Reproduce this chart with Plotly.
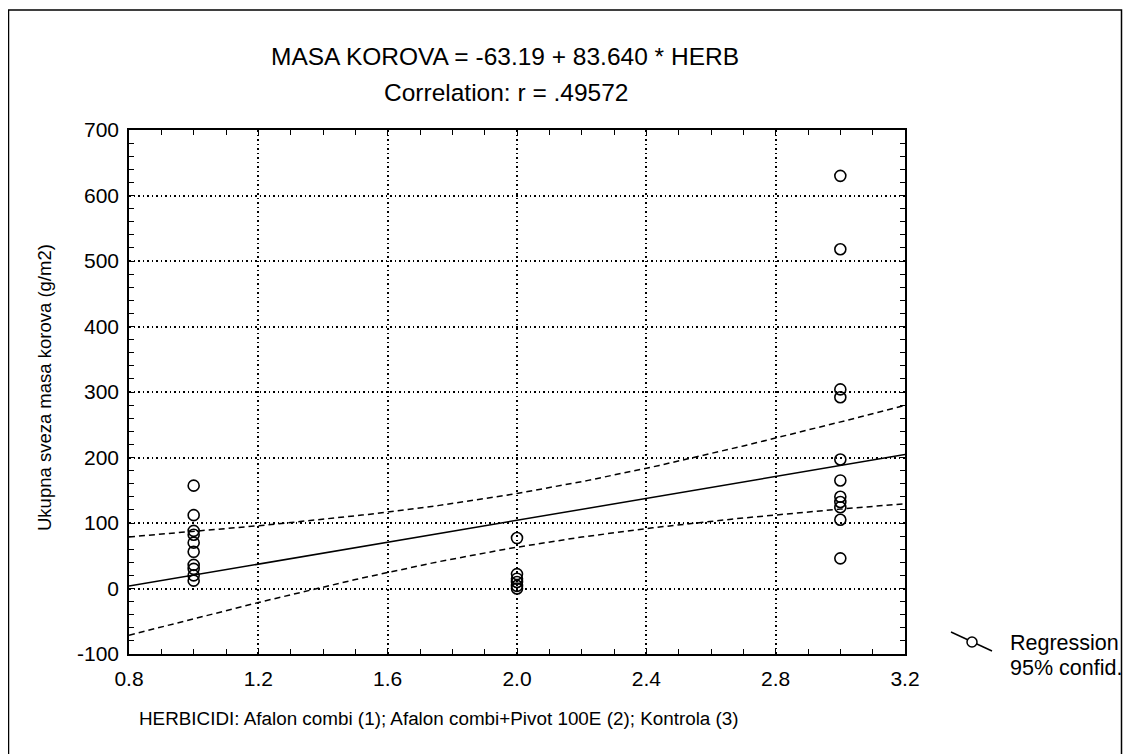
import numpy as np
import plotly.graph_objects as go

# ---- data ----
herb_group1 = [1, 1, 1, 1, 1, 1, 1, 1, 1, 1]
masa_group1 = [157, 112, 88, 82, 70, 56, 36, 30, 20, 12]
herb_group2 = [2, 2, 2, 2, 2, 2]
masa_group2 = [77, 22, 15, 10, 4, 0]
herb_group3 = [3, 3, 3, 3, 3, 3, 3, 3, 3, 3, 3]
masa_group3 = [630, 518, 304, 292, 197, 165, 140, 132, 124, 105, 46]

intercept = -63.19
slope = 83.640
r_value = ".49572"

# 95% confidence band parameters
ci_center_x = 2.0
ci_half_center = 41.0
ci_half_edge = 75.0   # half width at x = 0.8 and 3.2

x_ticks = [0.8, 1.2, 1.6, 2.0, 2.4, 2.8, 3.2]
x_tick_labels = ["0.8", "1.2", "1.6", "2.0", "2.4", "2.8", "3.2"]
y_ticks = [-100, 0, 100, 200, 300, 400, 500, 600, 700]
y_tick_labels = ["-100", "0", "100", "200", "300", "400", "500", "600", "700"]

xs = list(herb_group1) + list(herb_group2) + list(herb_group3)
ys = list(masa_group1) + list(masa_group2) + list(masa_group3)

xl = np.linspace(0.8, 3.2, 121)
yhat = intercept + slope * xl
k = (ci_half_edge**2 - ci_half_center**2) / (1.2**2)
half = np.sqrt(ci_half_center**2 + k * (xl - ci_center_x) ** 2)

FONT = "Liberation Sans, Arial, sans-serif"
OFF = 8  # page body margin
W, H = 1123, 746
L, T = 121, 122
pw, ph = 776, 524
R, B = W - L - pw, H - T - ph

def px(xs_):
    return (xs_ - OFF - L) / pw

def py(ys_):
    return (T + ph - (ys_ - OFF)) / ph

fig = go.Figure()
fig.add_trace(go.Scatter(x=xl, y=yhat + half, mode="lines",
                         line=dict(color="black", width=1.5, dash="6px,4px"), hoverinfo="skip"))
fig.add_trace(go.Scatter(x=xl, y=yhat - half, mode="lines",
                         line=dict(color="black", width=1.5, dash="6px,4px"), hoverinfo="skip"))
fig.add_trace(go.Scatter(x=xl, y=yhat, mode="lines",
                         line=dict(color="black", width=1.5), hoverinfo="skip"))
fig.add_trace(go.Scatter(x=xs, y=ys, mode="markers",
                         marker=dict(symbol="circle-open", size=11, color="black",
                                     line=dict(width=1.6, color="black"))))

axis_common = dict(showline=True, linecolor="black", linewidth=1.5, mirror="ticks",
                   ticks="inside", ticklen=5, tickwidth=1, tickcolor="black",
                   showgrid=True, gridcolor="black", gridwidth=1.5, griddash="1.5px,3px",
                   zeroline=False, tickfont=dict(family=FONT, size=21, color="black"))

fig.update_xaxes(range=[0.8, 3.2], tickvals=x_ticks, ticktext=x_tick_labels, ticklabelstandoff=5,
                 minor=dict(dtick=0.1, tick0=0.8, ticks="inside", ticklen=5, tickcolor="black", showgrid=False),
                 **axis_common)
fig.update_yaxes(range=[-100, 700], tickvals=y_ticks, ticktext=y_tick_labels, ticklabelstandoff=4,
                 minor=dict(dtick=20, tick0=0, ticks="inside", ticklen=5, tickcolor="black", showgrid=False),
                 **axis_common)

def ann(text, x, y, size, xanchor="center", **kw):
    return dict(text=text, x=px(x), y=py(y), xref="paper", yref="paper", showarrow=False,
                xanchor=xanchor, yanchor="middle", font=dict(family=FONT, size=size, color="black"), **kw)

annotations = [
    ann(f"MASA KOROVA = {intercept:.2f} + {slope:.3f} * HERB", 505, 57, 24.5),
    ann(f"Correlation: r = {r_value}", 506, 93, 24.5),
    ann("Ukupna sveza masa korova (g/m2)", 44, 388, 18.5, textangle=-90),
    ann("HERBICIDI: Afalon combi (1); Afalon combi+Pivot 100E (2); Kontrola (3)", 137, 718, 18.85,
        xanchor="left"),
    ann("Regression", 1008, 643, 21.5, xanchor="left"),
    ann("95% confid.", 1008, 668, 21.5, xanchor="left"),
]

shapes = [
    dict(type="rect", xref="paper", yref="paper", x0=px(8.5), x1=px(1121.5), y0=py(10), y1=py(800),
         line=dict(color="black", width=1.5), fillcolor="rgba(0,0,0,0)", layer="below"),
    dict(type="line", xref="paper", yref="paper", x0=px(951), y0=py(632), x1=px(992), y1=py(651),
         line=dict(color="black", width=1.5)),
    dict(type="circle", xref="paper", yref="paper", x0=px(967), x1=px(977), y0=py(637), y1=py(647),
         line=dict(color="black", width=1.5), fillcolor="white"),
]

fig.update_layout(width=W, height=H, margin=dict(l=L, r=R, t=T, b=B, pad=0),
                  paper_bgcolor="white", plot_bgcolor="white", showlegend=False,
                  annotations=annotations, shapes=shapes,
                  font=dict(family=FONT, color="black"))

fig.write_html("out.html")
